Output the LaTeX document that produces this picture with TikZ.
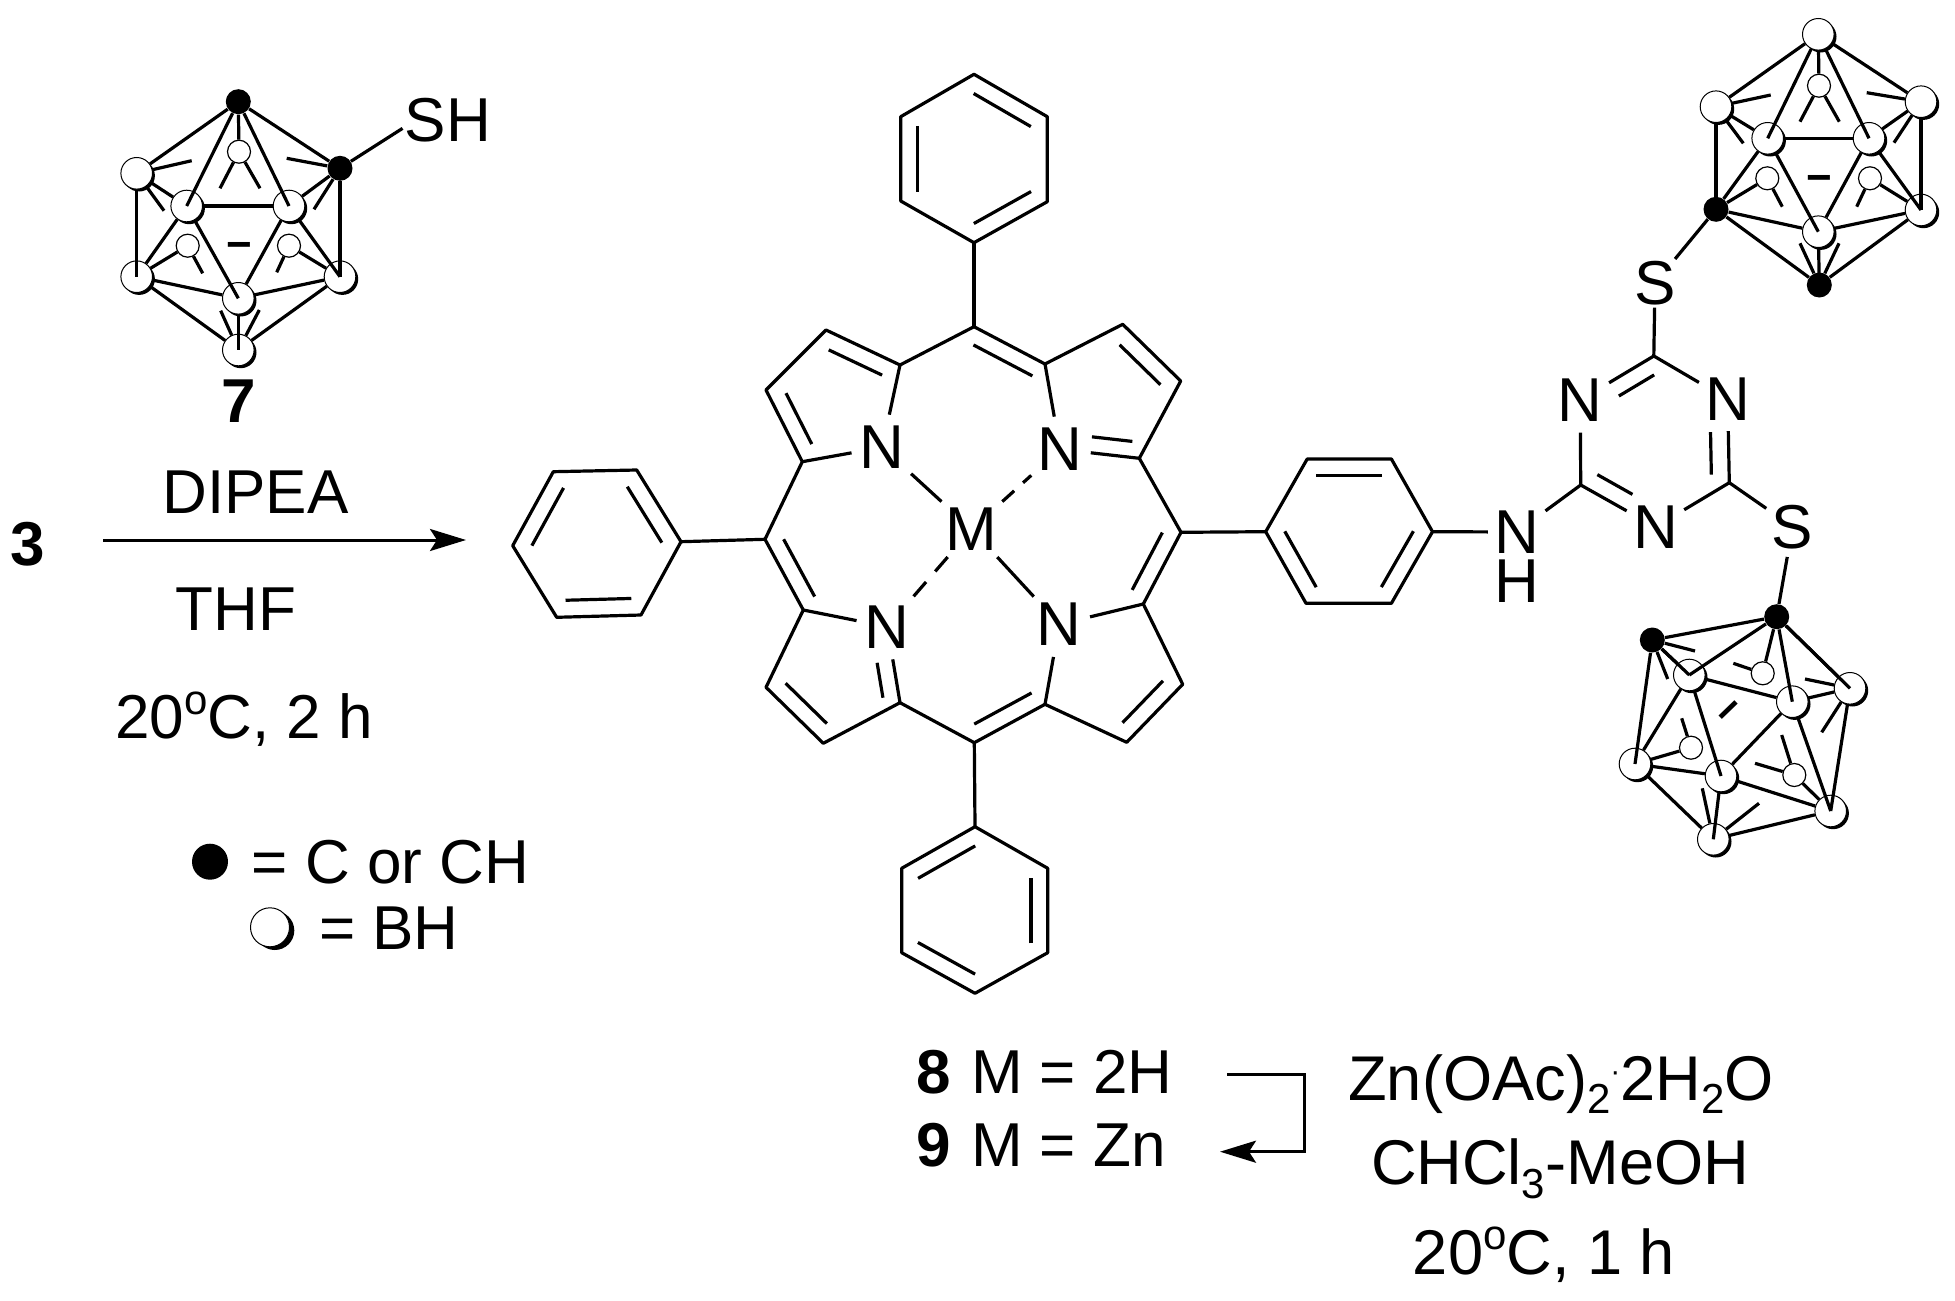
\documentclass[tikz,border=0pt]{standalone}
\usepackage{fontspec}
\setmainfont{Liberation Sans}
\usetikzlibrary{calc,arrows.meta,shadows}
\newcommand\sizeA{\fontsize{31pt}{34pt}\selectfont}
\newcommand\sizeB{\fontsize{31.6pt}{34pt}\selectfont}
\newcommand\degO{\raisebox{.39em}{\fontsize{21pt}{21pt}\selectfont o}}
\newcommand\subS[1]{\raisebox{-.22em}{\fontsize{21pt}{21pt}\selectfont #1}}
\tikzset{
  bond/.style={line width=1.6pt,line join=round,black},
  dashone/.style={bond,dash pattern=on 8pt off 6pt},
  dashtwo/.style={bond,dash pattern=on 9.5pt off 7pt},
  atom/.style={font=\sizeA,inner sep=3pt,text=black},
  lbl/.style={font=\sizeA,inner sep=0pt,anchor=base,text=black},
  reag/.style={lbl,font=\sizeB},
  bw/.style={circle,inner sep=0pt,minimum size=15.8pt,draw=black,line width=.5pt,fill=white,
    general shadow={fill=black,shadow xshift=1.2pt,shadow yshift=-1.2pt}},
  sw/.style={circle,inner sep=0pt,minimum size=11.5pt,draw=black,line width=.6pt,fill=white},
  bk/.style={circle,inner sep=0pt,minimum size=12.5pt,fill=black},
  legB/.style={circle,inner sep=0pt,minimum size=18pt,fill=black},
  legW/.style={circle,inner sep=0pt,minimum size=19.5pt,draw=black,line width=.5pt,fill=white,
    general shadow={fill=black,shadow xshift=2.4pt,shadow yshift=-1.6pt}},
  minusc/.style={font=\fontsize{22pt}{22pt}\selectfont\bfseries,inner sep=0pt},
  rxn/.style={line width=1.5pt,-{Stealth[length=18pt,width=11pt,inset=3.5pt]}}
}
% inner line of a double bond, on the left of a -> b
\newcommand\dbl[5]{\draw[bond] ($(#1)!#3!(#2)!#5!90:(#2)$) -- ($(#1)!#4!(#2)!#5!90:(#2)$);}
\newcommand\phd[2]{\dbl{#1}{#2}{.11}{.89}{8.4pt}}
% bonds of a carborane cage
\newcommand\cagebonds[1]{%
  \foreach \a/\b in {T/UL,T/R,T/BT,UL/FL,R/FR,FL/FR,FL/LL,FR/FB,LL/FB,FB/LR,LL/Bo,LR/Bo,LL/BL,LR/BR}
    {\draw[bond] (#1\a) -- (#1\b);}
  \foreach \a/\b in {T/FL,T/FR,UL/LL,R/LR,FL/FB,FR/LR,FB/Bo}
    {\draw[bond] (#1\a) -- (#1\b.center);}
}
\newcommand\stubs[2]{\foreach \a/\x/\y [count=\i] in {#2}
  {\coordinate (#1s\i) at (\x,\y); \draw[bond] (#1\a) -- (#1s\i);}}
\begin{document}
\begin{tikzpicture}[x=.5pt,y=-.5pt]
\useasboundingbox (0,0) rectangle (1955,1301);

% ---------- porphyrin ----------
\foreach \n/\x/\y in {mt/974/326.7,a1/900/365,b1/826/330,b2/766/390,a2/802.3/461.7,ml/765/539.3,
  a3/803.3/610,b3/766/687.3,b4/823.3/743.3,a4/900/702.7,mb/974.3/742.7,a5/1045/704.3,
  b5/1126.7/742.3,b6/1182.7/684.3,a6/1143.3/604,mr/1181/532.3,a7/1139.3/458.3,b7/1180.7/381,
  b8/1122.7/324.3,a8/1045/364}
  {\coordinate (\n) at (\x,\y);}
\node[atom] (n1) at (882.3,447.3) {N};
\node[atom] (n2) at (887.3,626.7) {N};
\node[atom] (n3) at (1059.3,624.3) {N};
\node[atom] (n4) at (1060,449.3) {N};
\node[atom] (metal) at (971.7,529.3) {M};
\draw[bond] (mt) -- (a1) -- (b1) -- (b2) -- (a2) -- (ml) -- (a3) -- (b3) -- (b4) -- (a4) -- (mb)
  -- (a5) -- (b5) -- (b6) -- (a6) -- (mr) -- (a7) -- (b7) -- (b8) -- (a8) -- cycle;
\foreach \a/\b in {a1/n1,a4/n2,a5/n3,a8/n4} {\draw[bond,shorten >=2.5pt] (\a) -- (\b);}
\foreach \a/\b in {a2/n1,a3/n2,a6/n3,a7/n4} {\draw[bond,shorten >=1pt] (\a) -- (\b);}
\draw[bond] (metal) -- (n1);
\draw[bond] (metal) -- (n3);
\draw[dashone] (metal) -- (n4);
\draw[dashtwo] (metal) -- (n2);
\dbl{a1}{b1}{.145}{.866}{8.4pt}
\dbl{b2}{a2}{.148}{.857}{8.2pt}
\dbl{a8}{mt}{.07}{.90}{8.2pt}
\dbl{b7}{b8}{.148}{.85}{8.4pt}
\dbl{n4}{a7}{.38}{.89}{8pt}
\dbl{a6}{mr}{.09}{.89}{8.2pt}
\dbl{b5}{b6}{.14}{.86}{8.3pt}
\dbl{mb}{a5}{.11}{.92}{8.2pt}
\dbl{a4}{n2}{.10}{.56}{8pt}
\dbl{b3}{b4}{.14}{.86}{8.3pt}
\dbl{ml}{a3}{.11}{.92}{8.2pt}

% ---------- top phenyl ----------
\foreach \n/\x/\y in {pt1/974/74.3,pt2/1047.3/116.7,pt3/1047.3/201.7,pt4/974/242.7,pt5/900.7/201,pt6/900.7/116.7}
  {\coordinate (\n) at (\x,\y);}
\draw[bond] (pt1) -- (pt2) -- (pt3) -- (pt4) -- (pt5) -- (pt6) -- cycle;
\draw[bond] (pt4) -- (mt);
\phd{pt2}{pt1}\phd{pt6}{pt5}\phd{pt4}{pt3}

% ---------- left phenyl ----------
\foreach \n/\x/\y in {pl1/553.3/471.7,pl2/636.7/470,pl3/681/541.7,pl4/641/615,pl5/556.7/617.3,pl6/512.7/545.7}
  {\coordinate (\n) at (\x,\y);}
\draw[bond] (pl1) -- (pl2) -- (pl3) -- (pl4) -- (pl5) -- (pl6) -- cycle;
\draw[bond] (pl3) -- (ml);
\phd{pl1}{pl6}\phd{pl3}{pl2}\phd{pl5}{pl4}

% ---------- bottom phenyl ----------
\foreach \n/\x/\y in {pb1/975/826.7,pb2/1047.7/868.3,pb3/1047.7/952.7,pb4/975/993.3,pb5/901.7/952.7,pb6/901.7/868.3}
  {\coordinate (\n) at (\x,\y);}
\draw[bond] (pb1) -- (pb2) -- (pb3) -- (pb4) -- (pb5) -- (pb6) -- cycle;
\draw[bond] (mb) -- (pb1);
\phd{pb1}{pb6}\phd{pb5}{pb4}\phd{pb3}{pb2}

% ---------- aminophenyl ----------
\foreach \n/\x/\y in {ar1/1265.7/531.7,ar2/1307.2/459,ar3/1391.4/459,ar4/1432.5/531.7,ar5/1391.4/603.3,ar6/1306/603.3}
  {\coordinate (\n) at (\x,\y);}
\draw[bond] (ar1) -- (ar2) -- (ar3) -- (ar4) -- (ar5) -- (ar6) -- cycle;
\draw[bond] (mr) -- (ar1);
\phd{ar3}{ar2}\phd{ar1}{ar6}\phd{ar5}{ar4}

% ---------- triazine ----------
\coordinate (cn) at (1580.7,485);
\coordinate (ctop) at (1653.8,356);
\coordinate (cr) at (1729.3,482.7);
\node[atom,inner xsep=3pt,inner ysep=.4pt] (nh) at (1516.7,532) {N};
\node[atom,inner sep=0pt] (hh) at (1516.7,581) {H};
\node[atom] (nl) at (1580.3,400) {N};
\node[atom] (nr) at (1727.7,399.3) {N};
\node[atom] (nb) at (1655.4,527) {N};
\node[atom,inner sep=1pt] (stop) at (1655,283.3) {S};
\node[atom,inner sep=1pt] (sright) at (1792.6,526.7) {S};
\draw[bond] (ar4) -- (nh);
\draw[bond] (cn) -- (nh);
\draw[bond] (ctop) -- (nl);
\draw[bond] (ctop) -- (nr);
\draw[bond,shorten >=2.5pt] (cn) -- (nl);
\draw[bond] (cn) -- (nb);
\draw[bond] (cr) -- (nb);
\draw[bond,shorten >=2pt] (cr) -- (nr);
\draw[bond] (ctop) -- (stop);
\draw[bond,shorten >=2pt] (cr) -- (sright);
\dbl{ctop}{nl}{.11}{.59}{8.2pt}
\dbl{cn}{nb}{.11}{.58}{8.6pt}
\dbl{cr}{nr}{.10}{.61}{8.9pt}

% ---------- cage of 7 ----------
\node[bk] (aT) at (238.3,101.7) {};
\node[bk] (aR) at (340,168.3) {};
\node[bw] (aUL) at (136.7,173.3) {};
\node[sw] (aBT) at (239,151.7) {};
\node[sw] (aBL) at (187.7,245.7) {};
\node[sw] (aBR) at (289,245.7) {};
\node[bw] (aFL) at (186.7,206) {};
\node[bw] (aFR) at (289,206) {};
\node[bw] (aLL) at (136.7,276.7) {};
\node[bw] (aLR) at (340,276.7) {};
\node[bw] (aFB) at (238.3,298.3) {};
\node[bw] (aBo) at (238.3,350) {};
\cagebonds{a}
\stubs{a}{UL/191.7/160.7,UL/164/210.7,R/286.7/158.3,R/314/209.3,BT/220/188.3,BT/260/188.3,
  BL/202.7/273.3,BR/276.7/272.3,Bo/220.7/310.7,Bo/259.3/310}
\node[minusc] (aminus) at (239,251) {−};
\node[lbl,inner sep=1pt,anchor=base] (sh) at (448,141.7) {SH};
\draw[bond] (aR) -- (sh.190);
\node[lbl,font=\sizeA\bfseries] (seven) at (238.3,422) {7};

% ---------- cage top right ----------
\node[bw] (bT) at (1818.3,34.3) {};
\node[bw] (bUL) at (1716,106.7) {};
\node[bw] (bR) at (1921,101.7) {};
\node[sw] (bBT) at (1819,85.7) {};
\node[sw] (bBL) at (1767.3,178.3) {};
\node[sw] (bBR) at (1870,178.3) {};
\node[bw] (bFL) at (1767.7,138.3) {};
\node[bw] (bFR) at (1869,138.3) {};
\node[bk] (bLL) at (1716,209.3) {};
\node[bw] (bLR) at (1921,210) {};
\node[bw] (bFB) at (1818.3,231.7) {};
\node[bk] (bBo) at (1819.3,285) {};
\cagebonds{b}
\stubs{b}{UL/1770.7/95,UL/1743.3/143.3,R/1866.7/92.7,R/1894/142.7,BT/1800/121.7,BT/1839.3/121.7,
  BL/1782.3/206.7,BR/1856.7/206.7,Bo/1800/243.3,Bo/1839/243.3}
\node[minusc] (bminus) at (1819,183.7) {−};
\draw[bond] (stop) -- (bLL);

% ---------- cage lower right ----------
\node[bk] (cT) at (1776.7,616.7) {};
\node[bk] (cUL) at (1652.3,640) {};
\node[bw] (cR) at (1850,688.3) {};
\node[sw] (cBT) at (1762.7,673.3) {};
\node[sw] (cBL) at (1691,747.7) {};
\node[sw] (cBR) at (1794.3,775) {};
\node[bw] (cFL) at (1689.3,675) {};
\node[bw] (cFR) at (1792.3,701.7) {};
\node[bw] (cLL) at (1635,764) {};
\node[bw] (cLR) at (1830.7,811) {};
\node[bw] (cFB) at (1721,776) {};
\node[bw] (cBo) at (1713.3,839.3) {};
\cagebonds{c}
\draw[bond] (cT) -- (cR.center);
\draw[bond] (cUL) -- (cFL.center);
\stubs{c}{UL/1695/651,UL/1667.7/679,R/1805/679,R/1821.7/732.3,BT/1733.3/663.3,BL/1681.7/718.3,
  BR/1781.7/735,BR/1755/763.3,Bo/1702.3/788.3,Bo/1759/803.3}
\node[minusc,rotate=44] (cminus) at (1732.5,714.3) {−};
\draw[bond,shorten <=3pt] (sright) -- (cT);

% ---------- left reaction text ----------
\node[lbl,font=\sizeA\bfseries] (three) at (28,565) {3};
\coordinate (arrS) at (103.3,540);
\coordinate (arrE) at (466,540);
\draw[rxn] (arrS) -- (arrE);
\node[lbl] (dipea) at (255.5,513.3) {DIPEA};
\node[lbl] (thf) at (236,630.7) {THF};
\node[lbl] (cond1) at (244,738.3) {20\degO C, 2 h};
\node[legB] (legb) at (210,861.7) {};
\node[lbl] (leg1) at (390.5,883.3) {= C or CH};
\node[legW] (legw) at (270,927.3) {};
\node[lbl] (leg2) at (389,949.3) {= BH};

% ---------- lower right text ----------
\node[lbl,anchor=base west] (eight) at (916,1093.3) {\textbf{8}\hspace{1.5pt} M = 2H};
\node[lbl,anchor=base west] (nine) at (916,1166) {\textbf{9}\hspace{1.5pt} M = Zn};
\coordinate (z1) at (1227,1074.3);
\coordinate (z2) at (1304.7,1074.3);
\coordinate (z3) at (1304.7,1151.7);
\coordinate (z4) at (1220,1151.7);
\draw[rxn] (z1) -- (z2) -- (z3) -- (z4);
\node[reag] (zn) at (1561,1100) {Zn(OAc)\subS{2}\raisebox{.3em}{\fontsize{15pt}{15pt}\selectfont ·}2H\subS{2}O};
\node[reag] (chcl) at (1560,1184.3) {CHCl\subS{3}-MeOH};
\node[reag] (cond2) at (1544,1274.3) {20\degO C, 1 h};
\end{tikzpicture}
\end{document}
